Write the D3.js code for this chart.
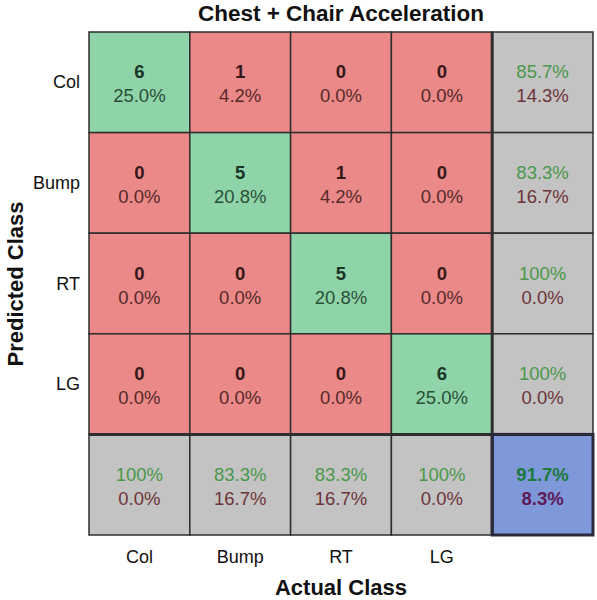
<!DOCTYPE html>
<html><head><meta charset="utf-8">
<script src="https://cdn.jsdelivr.net/npm/d3@7"></script>
<style>body{margin:0;background:#fff}text{font-family:"Liberation Sans",Arial,sans-serif}</style>
</head><body><svg id="c" width="597" height="600"></svg>
<script>
const classes = ["Col","Bump","RT","LG"];
// counts[predicted][actual]
const counts = [
  [6,1,0,0],
  [0,5,1,0],
  [0,0,5,0],
  [0,0,0,6]
];
const percents = [
  ["25.0%","4.2%","0.0%","0.0%"],
  ["0.0%","20.8%","4.2%","0.0%"],
  ["0.0%","0.0%","20.8%","0.0%"],
  ["0.0%","0.0%","0.0%","25.0%"]
];
const rowCorrect = ["85.7%","83.3%","100%","100%"];
const rowWrong = ["14.3%","16.7%","0.0%","0.0%"];
const colCorrect = ["100%","83.3%","83.3%","100%"];
const colWrong = ["0.0%","16.7%","16.7%","0.0%"];
const overallCorrect = "91.7%";
const overallWrong = "8.3%";
const title = "Chest + Chair Acceleration";
const xTitle = "Actual Class";
const yTitle = "Predicted Class";

const svg = d3.select("#c");
const idx = d3.range(5);
const x = d3.scaleBand().domain(idx).range([89,593]);
const y = d3.scaleBand().domain(idx).range([32,535]);
const green="#8fd4a9", red="#eb8888", gray="#c3c3c3", blue="#7f98da";

const cells=[];
for(let r=0;r<5;r++)for(let c=0;c<5;c++){
  let fill, t1, t2, c1, c2, w1, w2;
  if(r<4&&c<4){
    fill = r===c?green:red; t1=String(counts[r][c]); t2=percents[r][c];
    c1 = r===c?"#1a3526":"#361818"; c2 = r===c?"#2a4f38":"#552a2a"; w1="bold"; w2="normal";
  } else if(r<4&&c===4){
    fill=gray; t1=rowCorrect[r]; t2=rowWrong[r]; c1="#4a984a"; c2="#6e3438"; w1=w2="normal";
  } else if(r===4&&c<4){
    fill=gray; t1=colCorrect[c]; t2=colWrong[c]; c1="#4a984a"; c2="#6e3438"; w1=w2="normal";
  } else {
    fill=blue; t1=overallCorrect; t2=overallWrong; c1="#1b7a3e"; c2="#5e1a55"; w1=w2="bold";
  }
  cells.push({r,c,fill,t1,t2,c1,c2,w1,w2});
}
const g = svg.append("g");
g.selectAll("rect").data(cells).join("rect")
  .attr("x",d=>x(d.c)).attr("y",d=>y(d.r))
  .attr("width",x.bandwidth()).attr("height",y.bandwidth())
  .attr("fill",d=>d.fill).attr("stroke","#2e2e2e").attr("stroke-width",1.5);
svg.append("line").attr("x1",x(4)).attr("x2",x(4)).attr("y1",32).attr("y2",535).attr("stroke","#2e2e2e").attr("stroke-width",3);
svg.append("line").attr("y1",y(4)).attr("y2",y(4)).attr("x1",89).attr("x2",593).attr("stroke","#2e2e2e").attr("stroke-width",3);
svg.append("rect").attr("x",x(4)).attr("y",y(4)).attr("width",x.bandwidth()).attr("height",y.bandwidth())
  .attr("fill","none").attr("stroke","#2a2a3a").attr("stroke-width",3);

g.selectAll("text.a").data(cells).join("text").attr("class","a")
  .attr("x",d=>x(d.c)+x.bandwidth()/2).attr("y",d=>y(d.r)+y.bandwidth()/2-4)
  .attr("text-anchor","middle").attr("font-size",18.5).attr("font-weight",d=>d.w1)
  .attr("fill",d=>d.c1).text(d=>d.t1);
g.selectAll("text.b").data(cells).join("text").attr("class","b")
  .attr("x",d=>x(d.c)+x.bandwidth()/2).attr("y",d=>y(d.r)+y.bandwidth()/2+20)
  .attr("text-anchor","middle").attr("font-size",18.5).attr("font-weight",d=>d.w2)
  .attr("fill",d=>d.c2).text(d=>d.t2);

const xc = d3.scaleBand().domain(classes).range([89,x(4)]);
const yc = d3.scaleBand().domain(classes).range([32,y(4)]);
svg.selectAll("text.xt").data(classes).join("text").attr("class","xt")
  .attr("x",d=>xc(d)+xc.bandwidth()/2).attr("y",563).attr("text-anchor","middle")
  .attr("font-size",18).attr("fill","#111").text(d=>d);
svg.selectAll("text.yt").data(classes).join("text").attr("class","yt")
  .attr("x",80).attr("y",d=>yc(d)+yc.bandwidth()/2+6).attr("text-anchor","end")
  .attr("font-size",18).attr("fill","#111").text(d=>d);

svg.append("text").attr("x",341).attr("y",21).attr("text-anchor","middle")
  .attr("font-size",22.5).attr("font-weight","bold").attr("fill","#111").text(title);
svg.append("text").attr("x",341).attr("y",595).attr("text-anchor","middle")
  .attr("font-size",22).attr("font-weight","bold").attr("fill","#111").text(xTitle);
svg.append("text").attr("transform","translate(23,284) rotate(-90)").attr("text-anchor","middle")
  .attr("font-size",22).attr("font-weight","bold").attr("fill","#111").text(yTitle);
</script></body></html>
